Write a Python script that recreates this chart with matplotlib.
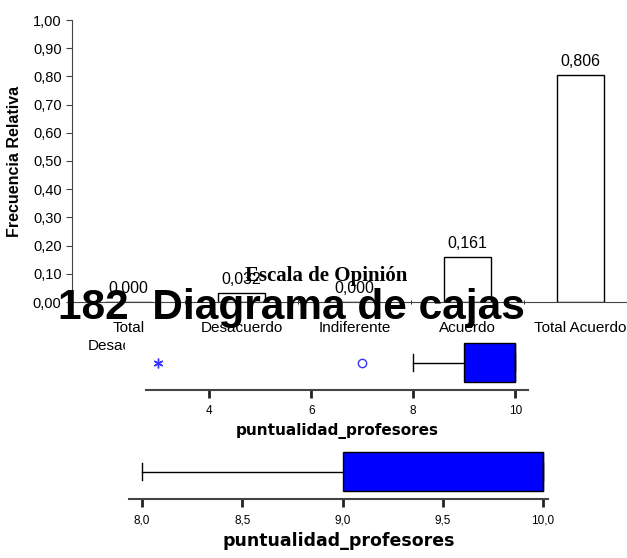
import matplotlib.pyplot as plt
from matplotlib.patches import Rectangle
from matplotlib.ticker import FuncFormatter, FixedLocator

# Frecuencias relativas por categoria
categorias = ['Total\nDesacuerdo', 'Desacuerdo', 'Indiferente', 'Acuerdo', 'Total Acuerdo']
frecuencias = [0.000, 0.032, 0.000, 0.161, 0.806]
y_ticks = [0.0, 0.1, 0.2, 0.3, 0.4, 0.5, 0.6, 0.7, 0.8, 0.9, 1.0]

# Resumen de cajas (puntualidad_profesores)
caja1 = dict(whislo=8, q1=9, med=10, q3=10, whishi=10)
caja1_atipicos = [7]
caja1_extremos = [3]
caja1_ticks = [4, 6, 8, 10]

caja2 = dict(whislo=8, q1=9, med=10, q3=10, whishi=10)
caja2_ticks = [8.0, 8.5, 9.0, 9.5, 10.0]

W, H = 627, 558
fig = plt.figure(figsize=(W / 100, H / 100), dpi=100)
plt.rcParams['font.family'] = ['Liberation Sans', 'DejaVu Sans']


def caja(x0, y0, x1, y1):
    # rectangulo en pixeles (origen arriba-izquierda) -> fraccion de figura
    return [x0 / W, 1 - y1 / H, (x1 - x0) / W, (y1 - y0) / H]


coma = FuncFormatter(lambda v, p: f'{v:.2f}'.replace('.', ','))

# ---- grafico de barras ----
ax = fig.add_axes(caja(72, 20, 627, 302), zorder=0)
pos = range(len(categorias))
ax.bar(pos, frecuencias, width=0.41, color='white', edgecolor='black', linewidth=1)
for x, v in zip(pos, frecuencias):
    ax.annotate(f'{v:.3f}'.replace('.', ','), (x, v), xytext=(0, 4),
                textcoords='offset points', ha='center', va='bottom', fontsize=11.5)
ax.set_xlim(-0.5, 4.41)
ax.set_ylim(0, 1.0)
ax.set_yticks(y_ticks)
ax.yaxis.set_major_formatter(coma)
ax.set_xticks(list(pos))
ax.set_xticklabels(categorias, fontsize=11, linespacing=1.3)
ax.xaxis.set_minor_locator(FixedLocator([0.5, 1.5, 2.5, 3.5]))
ax.tick_params(axis='x', which='major', length=0, pad=14)
ax.tick_params(axis='x', which='minor', length=3, direction='inout')
ax.tick_params(axis='y', labelsize=10.5, length=4, color='#444444')
for s in ['top', 'right']:
    ax.spines[s].set_visible(False)
for s in ['left', 'bottom']:
    ax.spines[s].set_color('#444444')

fig.text(15 / W, 1 - 161 / H, 'Frecuencia Relativa', rotation=90, ha='center',
         va='center', fontsize=11.5, fontweight='bold')
fig.text(326 / W, 1 - 281 / H, 'Escala de Opinión', ha='center', va='baseline',
         fontsize=15, fontweight='bold', family='Liberation Serif', zorder=3)

# fondo blanco de los diagramas de cajas
fig.patches.append(Rectangle((125 / W, 0), (560 - 125) / W, 1 - 337 / H,
                             transform=fig.transFigure, facecolor='white',
                             edgecolor='none', zorder=1))


def dibujar_caja(rect, stats, ticks, xlim, fmt, tamano_label, atipicos=(), extremos=()):
    a = fig.add_axes(rect, zorder=2)
    a.patch.set_alpha(0)
    s = dict(stats, fliers=list(atipicos))
    a.bxp([s], vert=False, widths=0.71, showfliers=True, patch_artist=True,
          boxprops=dict(facecolor='#0000ff', edgecolor='black', linewidth=1),
          medianprops=dict(color='black', linewidth=1),
          whiskerprops=dict(color='black', linewidth=1),
          capprops=dict(color='black', linewidth=1), capwidths=0.32,
          flierprops=dict(marker='o', markerfacecolor='none',
                          markeredgecolor='#3333ff', markersize=6))
    if extremos:
        a.plot(extremos, [1] * len(extremos), linestyle='none', marker=(6, 2, 0),
               color='#3333ff', markersize=7)
    a.set_xlim(*xlim)
    a.set_ylim(0.5, 1.5)
    a.set_yticks([])
    a.set_xticks(ticks)
    a.xaxis.set_major_formatter(FuncFormatter(fmt))
    a.tick_params(axis='x', length=6, width=2, labelsize=8.5, color='#222222', pad=5)
    for s_ in ['top', 'right', 'left']:
        a.spines[s_].set_visible(False)
    a.spines['bottom'].set_linewidth(1.5)
    a.spines['bottom'].set_color('#444444')
    a.set_xlabel('puntualidad_profesores', fontsize=tamano_label, fontweight='bold',
                 family='DejaVu Sans', labelpad=4)
    return a


dibujar_caja(caja(146, 335, 528, 390), caja1, caja1_ticks, (2.76, 10.25),
             lambda v, p: f'{v:.0f}', 11, caja1_atipicos, caja1_extremos)
dibujar_caja(caja(129, 444, 548, 499), caja2, caja2_ticks, (7.935, 10.025),
             lambda v, p: f'{v:.1f}'.replace('.', ','), 12.5)

# titulo de seccion
fig.text(58 / W, 1 - 319 / H, '182  Diagrama de cajas', ha='left', va='baseline',
         fontsize=30.5, fontweight='bold', zorder=5)

fig.savefig('out.png', dpi=100)
